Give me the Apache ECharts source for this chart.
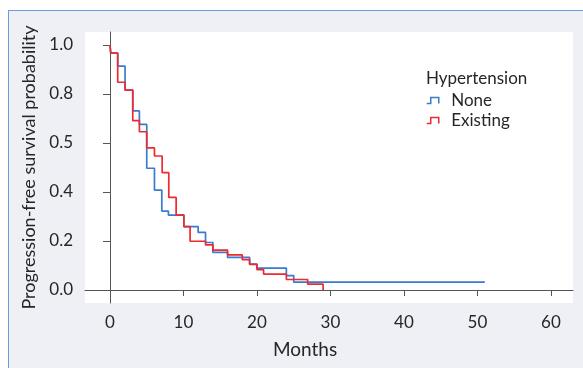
<!DOCTYPE html>
<html>
<head>
<meta charset="utf-8">
<script src="https://cdn.jsdelivr.net/npm/echarts@6/dist/echarts.min.js"></script>
<style>
  html, body { margin: 0; padding: 0; background: #ffffff; }
  #wrap { position: relative; width: 583px; height: 368px; overflow: hidden; }
  #panel { position: absolute; left: 8px; top: 10px; width: 620px; height: 400px;
           background: #eff0f5; border-left: 1px solid #6a9bdc; border-top: 1px solid #6a9bdc; }
  #chart { position: absolute; left: 0; top: 0; width: 583px; height: 368px; }
</style>
</head>
<body>
<div id="wrap">
  <div id="panel"></div>
  <div id="chart"></div>
</div>
<script>
// ---- data ----
var legendTitle = 'Hypertension';
var seriesNames = ['None', 'Existing'];
var xAxisTitle = 'Months';
var yAxisTitle = 'Progression-free survival probability';
var xTickValues = [0, 10, 20, 30, 40, 50, 60];
var yTickValues = [0, 0.2, 0.4, 0.6, 0.8, 1.0];
var yTickLabels = ['0.0', '0.2', '0.4', '0.5', '0.8', '1.0'];

// Kaplan-Meier steps: [month, survival]
var noneTimes = [0, 0.1, 1.05, 2.05, 3.1, 4.0, 5.0, 6.05, 7.05, 7.95, 10.05, 12.0, 13.0, 14.0, 16.0, 19.0, 20.0, 24.0, 25.0, 51.0];
var noneSurv  = [1.0, 0.967, 0.914, 0.816, 0.731, 0.676, 0.497, 0.408, 0.322, 0.306, 0.259, 0.235, 0.194, 0.154, 0.133, 0.106, 0.089, 0.059, 0.032, 0.032];

var existTimes = [0, 0.1, 1.05, 2.05, 3.1, 4.0, 5.0, 6.05, 7.1, 8.0, 9.0, 10.05, 10.9, 13.0, 14.0, 16.0, 18.0, 19.0, 20.0, 20.9, 24.0, 26.9, 29.0];
var existSurv  = [1.0, 0.967, 0.848, 0.816, 0.691, 0.646, 0.580, 0.547, 0.479, 0.378, 0.306, 0.259, 0.199, 0.184, 0.163, 0.143, 0.124, 0.105, 0.083, 0.065, 0.043, 0.024, 0.0];

function zip(a, b) { return a.map(function (v, i) { return [v, b[i]]; }); }

var FONT = 'Lato';
var BLUE = '#3a7bcc';
var RED = '#ec2a2f';
var TXT = '#262626';
var AX = '#555555';

var chart = echarts.init(document.getElementById('chart'), null, { renderer: 'canvas' });
chart.setOption({
  backgroundColor: 'transparent',
  animation: false,
  title: {
    text: legendTitle, left: 421, top: 65,
    textStyle: { fontFamily: FONT, fontSize: 17, fontWeight: 'normal', color: TXT }
  },
  legend: {
    orient: 'vertical', left: 421, top: 87, itemGap: 3,
    itemWidth: 13, itemHeight: 6,
    textStyle: { fontFamily: FONT, fontSize: 17, color: TXT, padding: [0, 0, 0, 7] },
    icon: 'path://M0,6 L4,6 L4,0 L12,0 L12,6',
    data: [
      { name: seriesNames[0], itemStyle: { color: 'transparent', borderColor: BLUE, borderWidth: 1.5 } },
      { name: seriesNames[1], itemStyle: { color: 'transparent', borderColor: RED, borderWidth: 1.5 } }
    ]
  },
  grid: { left: 85, right: 10, top: 32, bottom: 65, show: true, backgroundColor: '#ffffff', borderWidth: 0 },
  xAxis: {
    type: 'value', min: -3.4, max: 63,
    name: xAxisTitle, nameLocation: 'middle', nameGap: 37,
    nameTextStyle: { fontFamily: FONT, fontSize: 19, color: TXT, padding: [0, 48, 0, 0] },
    axisLine: { show: true, lineStyle: { color: AX, width: 1 } },
    axisTick: { show: true, length: 6, customValues: xTickValues, lineStyle: { color: AX } },
    axisLabel: { customValues: xTickValues, fontFamily: FONT, fontSize: 17, color: TXT, margin: 11 },
    splitLine: { show: false }
  },
  yAxis: {
    type: 'value', min: -0.053, max: 1.053,
    name: yAxisTitle, nameLocation: 'middle', nameGap: 46,
    nameTextStyle: { fontFamily: FONT, fontSize: 18, color: TXT },
    axisLine: { show: true, lineStyle: { color: AX, width: 1 } },
    axisTick: { show: true, length: 7, customValues: yTickValues, lineStyle: { color: AX } },
    axisLabel: {
      customValues: yTickValues, fontFamily: FONT, fontSize: 17, color: TXT, margin: 12,
      formatter: function (v) {
        var i = yTickValues.findIndex(function (t) { return Math.abs(t - v) < 1e-6; });
        return i >= 0 ? yTickLabels[i] : '';
      }
    },
    splitLine: { show: false }
  },
  series: [
    {
      name: seriesNames[0], type: 'line', step: 'end', showSymbol: false, symbol: 'none',
      data: zip(noneTimes, noneSurv),
      lineStyle: { color: BLUE, width: 1.7 }, itemStyle: { color: BLUE }
    },
    {
      name: seriesNames[1], type: 'line', step: 'end', showSymbol: false, symbol: 'none',
      data: zip(existTimes, existSurv),
      lineStyle: { color: RED, width: 1.7 }, itemStyle: { color: RED }
    }
  ]
});
</script>
</body>
</html>
